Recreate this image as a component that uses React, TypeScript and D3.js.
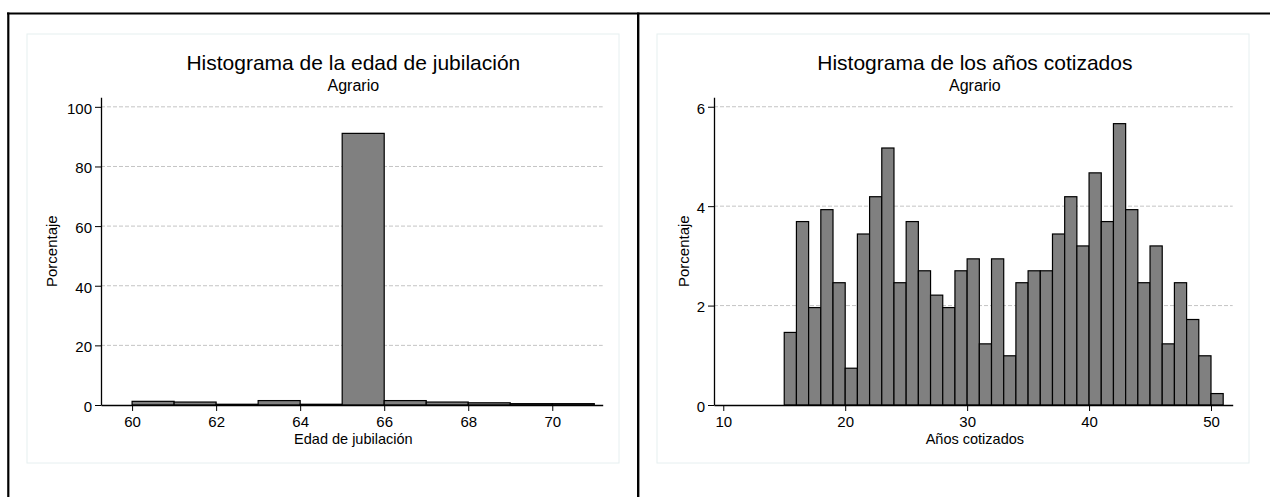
import * as d3 from 'd3';
import React, { useRef, useEffect } from 'react';

// edad de jubilación, bins de 1 año (inicio del bin)
const edadBins = [60, 61, 62, 63, 64, 65, 66, 67, 68, 69, 70];
const edadPct = [1.23, 0.99, 0.25, 1.48, 0.25, 91.1, 1.48, 0.99, 0.74, 0.45, 0.45];
const edadTicks = [60, 62, 64, 66, 68, 70];
const edadYTicks = [0, 20, 40, 60, 80, 100];

// años cotizados, bins de 1 año
const anosBins = [15, 16, 17, 18, 19, 20, 21, 22, 23, 24, 25, 26, 27, 28, 29, 30, 31, 32,
  33, 34, 35, 36, 37, 38, 39, 40, 41, 42, 43, 44, 45, 46, 47, 48, 49, 50];
const anosPct = [1.46, 3.69, 1.96, 3.93, 2.46, 0.74, 3.44, 4.19, 5.17, 2.46, 3.69, 2.70,
  2.21, 1.96, 2.70, 2.94, 1.23, 2.94, 0.99, 2.46, 2.70, 2.70, 3.44, 4.19, 3.20, 4.67,
  3.69, 5.66, 3.93, 2.46, 3.20, 1.23, 2.46, 1.72, 0.99, 0.23];
const anosTicks = [10, 20, 30, 40, 50];
const anosYTicks = [0, 2, 4, 6];

const FONT = '"Liberation Sans", Arial, Helvetica, sans-serif';
const TOP = 97.3;
const BASE = 405;

function Histogram({ box, plotL, plotR, yLabelX, xDomain, yMax, bins, values, xTicks, yTicks, title, subtitle, xLabel }) {
  const xRef = useRef(null);
  const yRef = useRef(null);

  const x = d3.scaleLinear().domain(xDomain).range([plotL, plotR]);
  const y = d3.scaleLinear().domain([0, yMax]).range([BASE, TOP]);
  const cx = (plotL + plotR) / 2 + 1.5;

  useEffect(() => {
    const gx = d3.select(xRef.current);
    gx.call(d3.axisBottom(x).tickValues(xTicks).tickFormat(d3.format('d'))
      .tickSize(6).tickSizeOuter(0).tickPadding(5));
    gx.attr('font-family', FONT).attr('font-size', 15);
    gx.select('.domain').attr('stroke-width', 1.3);
    gx.selectAll('.tick line').attr('stroke-width', 1);

    const gy = d3.select(yRef.current);
    gy.call(d3.axisLeft(y).tickValues(yTicks).tickFormat(d3.format('d'))
      .tickSize(6).tickSizeOuter(0).tickPadding(3));
    gy.attr('font-family', FONT).attr('font-size', 15);
    gy.select('.domain').attr('stroke-width', 1.3);
    gy.selectAll('.tick line').attr('stroke-width', 1);
    gy.selectAll('.tick text').attr('dy', '0.42em');
  }, []);

  return (
    <g>
      <rect x={box} y={34} width={592} height={429} fill="#fff" stroke="#e6eff0" strokeWidth={1} />
      {yTicks.filter(t => t > 0).map(t => (
        <line key={t} x1={plotL} x2={plotR} y1={y(t)} y2={y(t)} stroke="#c4c4c4" strokeWidth={1} strokeDasharray="4,2" />
      ))}
      {bins.map((b, i) => (
        <rect key={b} x={x(b)} y={y(values[i])} width={x(b + 1) - x(b)} height={BASE - y(values[i])}
          fill="#808080" stroke="#000" strokeWidth={1.2} />
      ))}
      <g ref={xRef} transform={`translate(0,${BASE})`} />
      <g ref={yRef} transform={`translate(${plotL},0)`} />
      <text x={cx} y={69.5} textAnchor="middle" fontFamily={FONT} fontSize={21}>{title}</text>
      <text x={cx} y={90.5} textAnchor="middle" fontFamily={FONT} fontSize={16}>{subtitle}</text>
      <text x={cx} y={444} textAnchor="middle" fontFamily={FONT} fontSize={14.5}>{xLabel}</text>
      <text transform={`translate(${yLabelX},${(TOP + BASE) / 2}) rotate(-90)`} dy="0.35em" textAnchor="middle"
        fontFamily={FONT} fontSize={15}>Porcentaje</text>
    </g>
  );
}

export default function App() {
  return (
    <svg width={1270} height={497} style={{ position: 'absolute', left: 0, top: 0, background: '#fff' }}>
      <Histogram box={27} plotL={101} plotR={602.7} yLabelX={52}
        xDomain={[59.26, 71.2]} yMax={103.2} bins={edadBins} values={edadPct}
        xTicks={edadTicks} yTicks={edadYTicks}
        title="Histograma de la edad de jubilación" subtitle="Agrario" xLabel="Edad de jubilación" />
      <Histogram box={657} plotL={714} plotR={1232.7} yLabelX={683.5}
        xDomain={[9.24, 51.78]} yMax={6.19} bins={anosBins} values={anosPct}
        xTicks={anosTicks} yTicks={anosYTicks}
        title="Histograma de los años cotizados" subtitle="Agrario" xLabel="Años cotizados" />
      {/* marco exterior */}
      <line x1={7} x2={1270} y1={13.5} y2={13.5} stroke="#000" strokeWidth={2.2} />
      <line x1={8.3} x2={8.3} y1={12.5} y2={497} stroke="#000" strokeWidth={2.2} />
      <line x1={638.2} x2={638.2} y1={12.5} y2={497} stroke="#000" strokeWidth={2.4} />
    </svg>
  );
}
